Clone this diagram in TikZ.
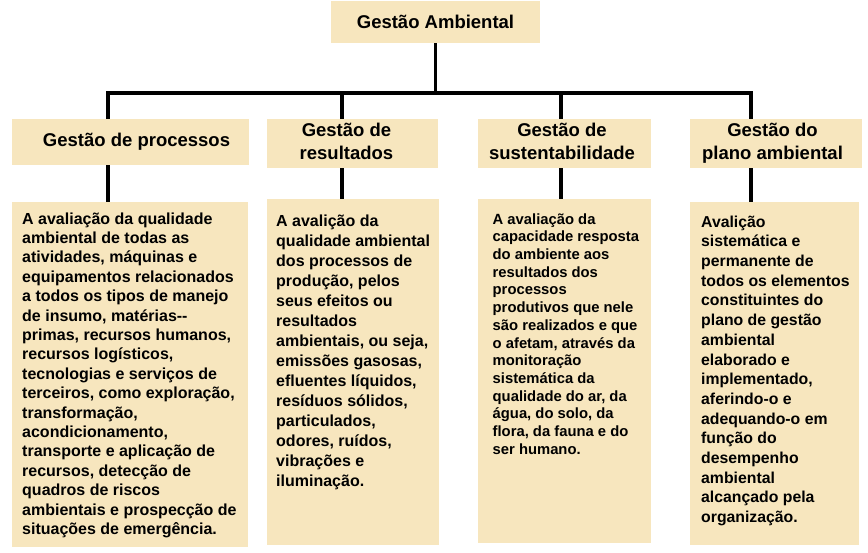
\documentclass[tikz,border=0pt]{standalone}
\usepackage{fontspec}
\setmainfont{Liberation Sans}
\definecolor{boxBeige}{RGB}{247, 230, 190}
\usetikzlibrary{positioning}

\begin{document}
\begin{tikzpicture}[x=1pt,y=-1pt,
    headBox/.style={fill=boxBeige,inner sep=0pt,align=center,font=\fontsize{18.5}{23.3}\selectfont\bfseries},
    descBox/.style={fill=boxBeige,inner sep=0pt,anchor=north west},
    descText/.style={inner sep=0pt,anchor=north west,align=left},
    link/.style={line width=3.5pt}]
  \useasboundingbox (0,0) rectangle (868,552);

  % Top box
  \node[headBox,minimum width=209pt,minimum height=42pt] (gestao) at (435.5,22) {Gestão Ambiental};

  % Second level boxes
  \node[headBox,minimum width=237pt,minimum height=46pt] (proc) at (130.5,142) {\hspace*{12pt}Gestão de processos};
  \node[headBox,minimum width=171pt,minimum height=49pt] (res) at (352.5,143.5) {Gestão de\hspace*{12pt}\\resultados\vphantom{g}\hspace*{12pt}};
  \node[headBox,minimum width=173pt,minimum height=49pt] (sust) at (564.5,143.5) {Gestão de\hspace*{5pt}\\sustentabilidade\vphantom{g}\hspace*{5pt}};
  \node[headBox,minimum width=172pt,minimum height=49pt] (plano) at (776,143.5) {Gestão do\hspace*{7pt}\\plano ambiental\hspace*{7pt}};

  % Description boxes
  \node[descBox,minimum width=236pt,minimum height=345pt] (procDesc) at (12,202) {};
  \node[descBox,minimum width=172pt,minimum height=346pt] (resDesc) at (267,199) {};
  \node[descBox,minimum width=173pt,minimum height=344pt] (sustDesc) at (478,199) {};
  \node[descBox,minimum width=169pt,minimum height=343pt] (planoDesc) at (690,202) {};

  \node[descText,font=\fontsize{16}{19.4}\selectfont\bfseries] (procText) at ([shift={(10pt,-8.4pt)}]procDesc.north west) {\strut A avaliação da qualidade\\
    ambiental de todas as\\
    atividades, máquinas e\\
    equipamentos relacionados\\
    a todos os tipos de manejo\\
    de insumo, matérias-{}-\\
    primas, recursos humanos,\\
    recursos logísticos,\\
    tecnologias e serviços de\\
    terceiros, como exploração,\\
    transformação,\\
    acondicionamento,\\
    transporte e aplicação de\\
    recursos, detecção de\\
    quadros de riscos\\
    ambientais e prospecção de\\
    situações de emergência.};
  \node[descText,font=\fontsize{16}{20}\selectfont\bfseries] (resText) at ([shift={(9pt,-13pt)}]resDesc.north west) {\strut A avalição da\\
    qualidade ambiental\\
    dos processos de\\
    produção, pelos\\
    seus efeitos ou\\
    resultados\\
    ambientais, ou seja,\\
    emissões gasosas,\\
    efluentes líquidos,\\
    resíduos sólidos,\\
    particulados,\\
    odores, ruídos,\\
    vibrações e\\
    iluminação.};
  \node[descText,font=\fontsize{14.8}{17.7}\selectfont\bfseries] (sustText) at ([shift={(14.5pt,-12.6pt)}]sustDesc.north west) {\strut A avaliação da\\
    capacidade resposta\\
    do ambiente aos\\
    resultados dos\\
    processos\\
    produtivos que nele\\
    são realizados e que\\
    o afetam, através da\\
    monitoração\\
    sistemática da\\
    qualidade do ar, da\\
    água, do solo, da\\
    flora, da fauna e do\\
    ser humano.};
  \node[descText,font=\fontsize{15.8}{19.7}\selectfont\bfseries] (planoText) at ([shift={(11pt,-11.2pt)}]planoDesc.north west) {\strut Avalição\\
    sistemática e\\
    permanente de\\
    todos os elementos\\
    constituintes do\\
    plano de gestão\\
    ambiental\\
    elaborado e\\
    implementado,\\
    aferindo-o e\\
    adequando-o em\\
    função do\\
    desempenho\\
    ambiental\\
    alcançado pela\\
    organização.};

  % Connectors
  \coordinate (barProc) at (108,93);
  \coordinate (barRes) at (342,93);
  \coordinate (barSust) at (561,93);
  \coordinate (barPlano) at (751,93);
  \draw[link] (gestao.south) -- (gestao.south |- barProc);
  \draw[link] (barProc |- proc.north) -- (barProc) -- (barPlano) -- (barPlano |- plano.north);
  \foreach \n in {Res,Sust} {
    \draw[link] (bar\n) -- (bar\n |- 0,119);
  }
  \foreach \n/\m in {Proc/proc,Res/res,Sust/sust,Plano/plano} {
    \draw[link] (bar\n |- \m.south) -- (bar\n |- \m Desc.north);
  }
\end{tikzpicture}
\end{document}
